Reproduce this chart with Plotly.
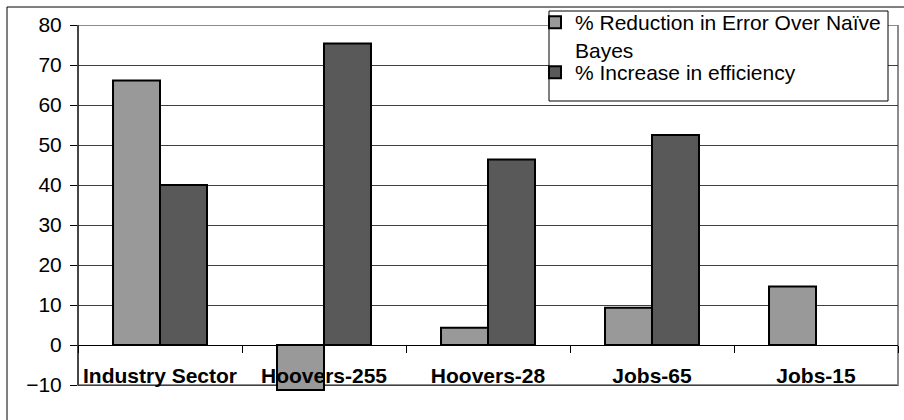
import plotly.graph_objects as go

# ---- data ---------------------------------------------------------------
categories = ["Industry Sector", "Hoovers-255", "Hoovers-28", "Jobs-65", "Jobs-15"]
error_reduction = [66.1, -11.25, 4.3, 9.3, 14.6]       # % Reduction in Error Over Naïve Bayes
efficiency_increase = [40.0, 75.4, 46.4, 52.5, None]   # % Increase in efficiency
series_names = ["% Reduction in Error Over Naïve<br>Bayes", "% Increase in efficiency"]
y_ticks = [-10, 0, 10, 20, 30, 40, 50, 60, 70, 80]

# ---- layout geometry (pixels) ------------------------------------------
W, H = 904, 420
ML, MR, MT, MB = 78, 6, 25, 29
PW, PH = W - ML - MR, H - MT - MB
Y_MIN, Y_MAX = -11.5, 80


def px_x(p):
    return (p - ML) / PW


def px_y(p):
    return (H - MB - p) / PH


FONT = "Liberation Sans, Arial, sans-serif"
FS = 21

fig = go.Figure()
fig.add_trace(go.Bar(
    x=categories, y=error_reduction, name=series_names[0],
    marker=dict(color="#999999", line=dict(color="black", width=2)),
    legend="legend",
))
fig.add_trace(go.Bar(
    x=categories, y=efficiency_increase, name=series_names[1],
    marker=dict(color="#595959", line=dict(color="black", width=2)),
    legend="legend2",
))

shapes = [
    # plot-area frame
    dict(type="rect", xref="paper", yref="y", x0=0, x1=1, y0=-10, y1=80,
         line=dict(color="#8c8c8c", width=2), layer="between"),
    # value axis line
    dict(type="line", xref="paper", yref="y", x0=0, x1=0, y0=-10, y1=80,
         line=dict(color="black", width=1), layer="above"),
    # outer chart border
    dict(type="line", xref="paper", yref="paper", x0=px_x(7), x1=px_x(7),
         y0=px_y(7), y1=px_y(440), line=dict(color="black", width=1)),
    dict(type="line", xref="paper", yref="paper", x0=px_x(7), x1=px_x(930),
         y0=px_y(7), y1=px_y(7), line=dict(color="black", width=1)),
    # legend box
    dict(type="rect", xref="paper", yref="paper", x0=px_x(549), x1=px_x(888),
         y0=px_y(101), y1=px_y(11), fillcolor="white",
         line=dict(color="black", width=1), layer="above"),
]

legend_style = dict(
    xanchor="left", yanchor="top",
    bgcolor="rgba(0,0,0,0)", borderwidth=0,
    font=dict(family=FONT, size=FS, color="black"),
    valign="top", tracegroupgap=0, itemsizing="constant",
)

fig.update_layout(
    width=W, height=H,
    margin=dict(l=ML, r=MR, t=MT, b=MB, pad=0, autoexpand=False),
    paper_bgcolor="white", plot_bgcolor="white",
    font=dict(family=FONT, size=FS, color="black"),
    barmode="group", bargap=0.427, bargroupgap=0,
    showlegend=True,
    legend=dict(x=px_x(535), y=px_y(2), **legend_style),
    legend2=dict(x=px_x(535), y=px_y(52), **legend_style),
    shapes=shapes,
    xaxis=dict(
        type="category", anchor="free",
        position=(0 - Y_MIN) / (Y_MAX - Y_MIN),
        showline=True, linecolor="black", linewidth=1,
        ticks="outside", tickson="boundaries", ticklen=7,
        tickcolor="black", tickwidth=1,
        showgrid=False, zeroline=False,
        tickfont=dict(family=FONT, size=FS, color="black", weight="bold"),
        ticklabelstandoff=12,
    ),
    yaxis=dict(
        range=[Y_MIN, Y_MAX], tickvals=y_ticks,
        showline=False, zeroline=False,
        showgrid=True, gridcolor="#404040", gridwidth=1,
        ticks="outside", ticklen=7, tickcolor="black", tickwidth=1,
        ticklabelstandoff=4,
        tickfont=dict(family=FONT, size=FS, color="black"),
    ),
)

fig.write_html("out.html")
